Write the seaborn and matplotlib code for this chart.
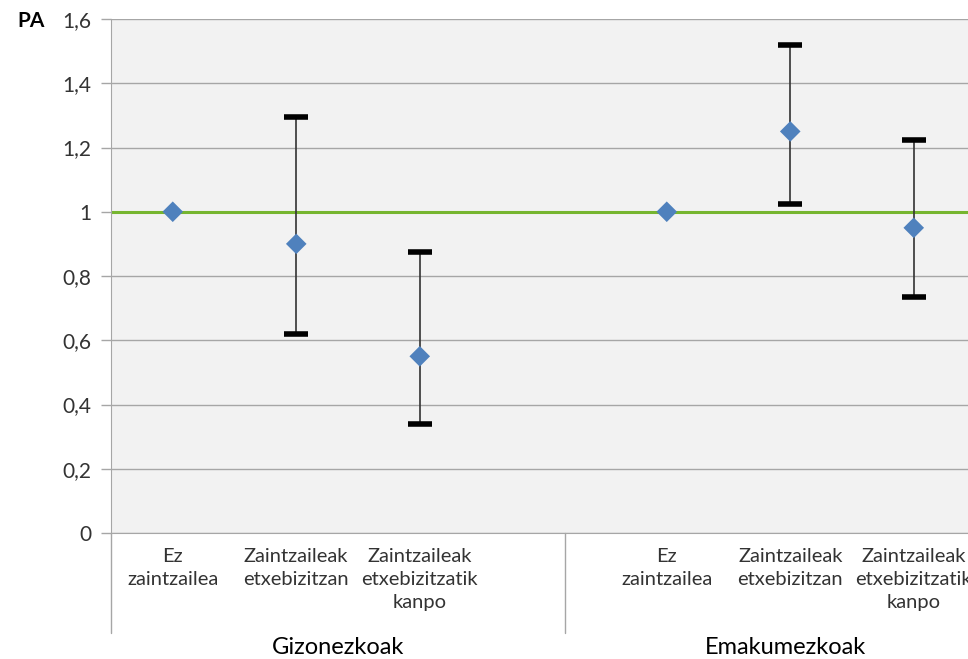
import matplotlib
matplotlib.use("Agg")
import matplotlib.pyplot as plt
from matplotlib.lines import Line2D
from matplotlib.transforms import blended_transform_factory
import seaborn as sns
import pandas as pd

# Category slots (an empty slot separates the two groups)
categories = ["Ez\nzaintzailea", "Zaintzaileak\netxebizitzan", "Zaintzaileak\netxebizitzatik\nkanpo",
              "", "Ez\nzaintzailea", "Zaintzaileak\netxebizitzan", "Zaintzaileak\netxebizitzatik\nkanpo"]
groups = ["Gizonezkoak", "Emakumezkoak"]

# Prevalence ratios with confidence limits
slot = [0, 1, 2, 4, 5, 6]
pa = [1.0, 0.90, 0.55, 1.0, 1.25, 0.95]
lower = [1.0, 0.62, 0.34, 1.0, 1.025, 0.735]
upper = [1.0, 1.295, 0.875, 1.0, 1.52, 1.222]
reference = 1.0
yticks = [0, 0.2, 0.4, 0.6, 0.8, 1.0, 1.2, 1.4, 1.6]

df = pd.DataFrame({"slot": slot, "pa": pa, "lower": lower, "upper": upper})

sns.set_style("white")
plt.rcParams["font.family"] = ["Lato", "DejaVu Sans"]

W, H = 968, 659
fig = plt.figure(figsize=(W / 100, H / 100), dpi=100)
left_px, top_px, bottom_px, slot_px = 111, 19, 533, 123.5
ax = fig.add_axes([left_px / W, 1 - bottom_px / H, 7 * slot_px / W, (bottom_px - top_px) / H])
ax.set_facecolor("#f2f2f2")

ax.set_xlim(-0.5, 6.5)
ax.set_ylim(0, 1.6)
ax.set_yticks(yticks)
ax.set_yticklabels([f"{v:g}".replace(".", ",") for v in yticks], fontsize=15, color="#333333")
ax.set_xticks([])
ax.grid(axis="y", color="#a6a6a6", lw=1)
ax.set_axisbelow(True)
ax.tick_params(axis="y", length=7, width=1, color="#a6a6a6", pad=7, left=True)
for s in ["top", "right"]:
    ax.spines[s].set_visible(False)
ax.spines["left"].set_color("#a6a6a6")
ax.spines["bottom"].set_color("#a6a6a6")

# reference line at 1
ax.axhline(reference, color="#76b52f", lw=2.2, zorder=2)

# confidence intervals
shown = df[df["upper"] > df["lower"]]
ax.vlines(shown["slot"], shown["lower"], shown["upper"], color="#333333", lw=1.2, zorder=3)
for col in ["lower", "upper"]:
    ax.scatter(shown["slot"], shown[col], marker="_", s=300, linewidths=4, color="black", zorder=4)

sns.scatterplot(data=df, x="slot", y="pa", marker="D", s=110, color="#4f81bd",
                edgecolor="none", zorder=5, ax=ax)
ax.set_xlabel("")
ax.set_ylabel("")

# category labels below the axis
tr = blended_transform_factory(ax.transData, fig.transFigure)
for i, lab in enumerate(categories):
    if lab:
        fig.text(i, 1 - 548 / H, lab, transform=tr, ha="center", va="top",
                 fontsize=14.5, color="#333333", linespacing=1.42)

# group separators and labels
sep_x = [-0.5, 3.18]
for x in sep_x:
    fig.add_artist(Line2D([x, x], [1 - bottom_px / H, 1 - 633 / H], transform=tr,
                          color="#a6a6a6", lw=1))
group_x = [(-0.5 + 3.18) / 2, 4.96]
for x, g in zip(group_x, groups):
    fig.text(x, 1 - 648 / H, g, transform=tr, ha="center", va="center",
             fontsize=17, color="black")

fig.text(17 / W, 1 - 21 / H, "PA", ha="left", va="center", fontsize=15,
         fontweight="bold", color="black")

fig.savefig("out.png", dpi=100)
